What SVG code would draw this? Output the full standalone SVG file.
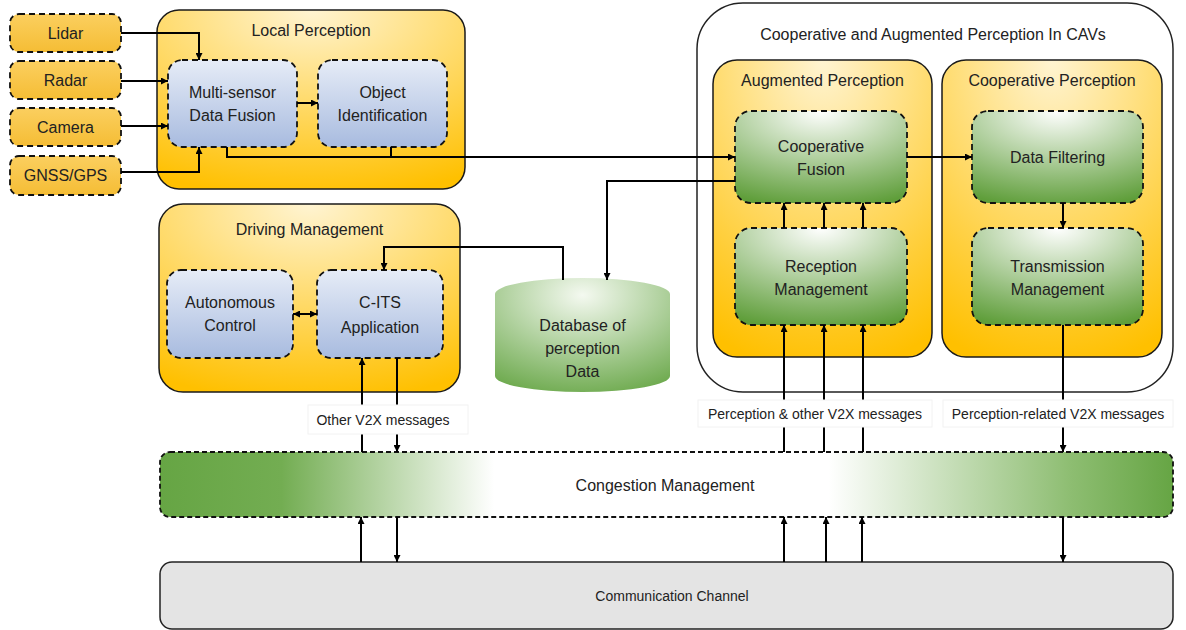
<svg xmlns="http://www.w3.org/2000/svg" width="1186" height="630" viewBox="0 0 1186 630">
<defs>
<radialGradient id="gYellow" cx="0.5" cy="0" r="1.05">
<stop offset="0" stop-color="#fff4d2"/>
<stop offset="1" stop-color="#ffc000"/>
</radialGradient>
<linearGradient id="gSensor" x1="0" y1="0" x2="0" y2="1">
<stop offset="0" stop-color="#fbcf5f"/>
<stop offset="1" stop-color="#f5bd35"/>
</linearGradient>
<linearGradient id="gBlue" x1="0" y1="0" x2="0" y2="1">
<stop offset="0" stop-color="#e6ecf7"/>
<stop offset="1" stop-color="#a8bbdf"/>
</linearGradient>
<radialGradient id="gGreen" cx="0.5" cy="0" r="1.05">
<stop offset="0" stop-color="#ffffff"/>
<stop offset="1" stop-color="#5f9e3a"/>
</radialGradient>
<radialGradient id="gDb" cx="0.5" cy="0.15" r="0.95">
<stop offset="0" stop-color="#f4f9f0"/>
<stop offset="1" stop-color="#67a646"/>
</radialGradient>
<linearGradient id="gCong" x1="0" y1="0" x2="1" y2="0">
<stop offset="0" stop-color="#66a544"/>
<stop offset="0.12" stop-color="#73ad52"/>
<stop offset="0.33" stop-color="#ffffff"/>
<stop offset="0.66" stop-color="#ffffff"/>
<stop offset="0.9" stop-color="#8dbd71"/>
<stop offset="1" stop-color="#66a544"/>
</linearGradient>
<marker id="arr" viewBox="0 0 10 10" refX="10" refY="5" markerWidth="7" markerHeight="7" orient="auto-start-reverse" markerUnits="userSpaceOnUse">
<path d="M0,0 L10,5 L0,10 z" fill="#000"/>
</marker>
<style>
.t{font-family:"Liberation Sans",Arial,sans-serif;font-size:16px;fill:#222;text-anchor:middle}
.s{font-family:"Liberation Sans",Arial,sans-serif;font-size:14px;fill:#222;text-anchor:middle}
.yel{fill:url(#gYellow);stroke:#1a1a1a;stroke-width:1.5}
.sen{fill:url(#gSensor);stroke:#111;stroke-width:1.8;stroke-dasharray:6 4}
.blu{fill:url(#gBlue);stroke:#111;stroke-width:1.8;stroke-dasharray:6 4}
.grn{fill:url(#gGreen);stroke:#111;stroke-width:1.8;stroke-dasharray:6 4}
.c{fill:none;stroke:#000;stroke-width:2}
.ca{fill:none;stroke:#000;stroke-width:2;marker-end:url(#arr)}
.lbl{fill:#fff;stroke:#f2f2f2;stroke-width:1}
</style>
</defs>
<rect width="1186" height="630" fill="#fff"/>

<g id="sensor-lidar"><rect class="sen" x="10" y="14" width="111" height="38" rx="9"/><text class="t" x="65.5" y="39">Lidar</text></g>
<g id="sensor-radar"><rect class="sen" x="10" y="61" width="111" height="38" rx="9"/><text class="t" x="65.5" y="86">Radar</text></g>
<g id="sensor-camera"><rect class="sen" x="10" y="108" width="111" height="38" rx="9"/><text class="t" x="65.5" y="133">Camera</text></g>
<g id="sensor-gnss"><rect class="sen" x="10" y="156" width="111" height="39" rx="9"/><text class="t" x="65.5" y="181">GNSS/GPS</text></g>

<g id="local-perception">
<rect class="yel" x="157" y="10" width="308" height="179" rx="22"/>
<text class="t" x="311" y="36">Local Perception</text>
</g>
<g id="multi-sensor-fusion"><rect class="blu" x="168" y="60" width="129" height="87" rx="14"/><text class="t" x="232.5" y="98">Multi-sensor</text><text class="t" x="232.5" y="121">Data Fusion</text></g>
<g id="object-identification"><rect class="blu" x="318" y="60" width="129" height="87" rx="14"/><text class="t" x="382.5" y="98">Object</text><text class="t" x="382.5" y="121">Identification</text></g>

<g id="driving-management">
<rect class="yel" x="159" y="204" width="301" height="188" rx="24"/>
<text class="t" x="309.5" y="235">Driving Management</text>
</g>
<g id="autonomous-control"><rect class="blu" x="167" y="270" width="126" height="88" rx="14"/><text class="t" x="230" y="308">Autonomous</text><text class="t" x="230" y="331">Control</text></g>
<g id="c-its-application"><rect class="blu" x="317" y="270" width="126" height="88" rx="14"/><text class="t" x="380" y="308">C-ITS</text><text class="t" x="380" y="333">Application</text></g>

<g id="database">
<path d="M495,294 A87.5,16 0 0 1 670,294 V376 A87.5,16 0 0 1 495,376 Z" fill="url(#gDb)"/>
<text class="t" x="582.5" y="331">Database of</text>
<text class="t" x="582.5" y="354">perception</text>
<text class="t" x="582.5" y="377">Data</text>
</g>

<g id="cavs">
<rect x="697" y="3" width="476" height="389" rx="46" fill="#fff" stroke="#222" stroke-width="1.5"/>
<text class="t" x="933" y="40">Cooperative and Augmented Perception In CAVs</text>
</g>
<g id="augmented-perception"><rect class="yel" x="713" y="60" width="219" height="297" rx="24"/><text class="t" x="822.5" y="86">Augmented Perception</text></g>
<g id="cooperative-perception"><rect class="yel" x="942" y="60" width="220" height="297" rx="24"/><text class="t" x="1052" y="86">Cooperative Perception</text></g>
<g id="cooperative-fusion"><rect class="grn" x="735" y="111" width="172" height="92" rx="16"/><text class="t" x="821" y="152">Cooperative</text><text class="t" x="821" y="175">Fusion</text></g>
<g id="reception-management"><rect class="grn" x="735" y="228" width="172" height="97" rx="16"/><text class="t" x="821" y="272">Reception</text><text class="t" x="821" y="295">Management</text></g>
<g id="data-filtering"><rect class="grn" x="972" y="111" width="171" height="92" rx="16"/><text class="t" x="1057.5" y="163">Data Filtering</text></g>
<g id="transmission-management"><rect class="grn" x="972" y="228" width="171" height="97" rx="16"/><text class="t" x="1057.5" y="272">Transmission</text><text class="t" x="1057.5" y="295">Management</text></g>

<g id="congestion-management"><rect x="160" y="452" width="1013" height="65" rx="10" fill="url(#gCong)" stroke="#111" stroke-width="1.8" stroke-dasharray="5 3"/><text class="t" x="665" y="491">Congestion Management</text></g>
<g id="communication-channel"><rect x="160" y="562" width="1013" height="67" rx="12" fill="#e4e4e4" stroke="#222" stroke-width="1.5"/><text class="s" x="672" y="601">Communication Channel</text></g>

<g id="connectors">
<path class="ca" d="M121,33 H199 V60"/>
<path class="ca" d="M121,81 H168"/>
<path class="ca" d="M121,126 H168"/>
<path class="ca" d="M121,172 H199 V147"/>
<path class="ca" d="M297,103 H318"/>
<path class="ca" d="M227,147 V157 H735"/>
<path class="c" d="M391,147 V157"/>
<path class="ca" d="M735,181 H607 V280"/>
<path class="ca" d="M563,280 V247 H384 V270"/>
<path class="ca" d="M293,314 H317" marker-start="url(#arr)"/>
<path class="ca" d="M907,157 H972"/>
<path class="ca" d="M784,228 V203"/>
<path class="ca" d="M824,228 V203"/>
<path class="ca" d="M863,228 V203"/>
<path class="ca" d="M1063,203 V228"/>
<path class="ca" d="M784,452 V325"/>
<path class="ca" d="M824,452 V325"/>
<path class="ca" d="M863,452 V325"/>
<path class="ca" d="M1063,325 V452"/>
<path class="ca" d="M362,452 V358"/>
<path class="ca" d="M397,358 V452"/>
<path class="ca" d="M361,562 V517"/>
<path class="ca" d="M397,517 V562"/>
<path class="ca" d="M784,562 V517"/>
<path class="ca" d="M826,562 V517"/>
<path class="ca" d="M862,562 V517"/>
<path class="ca" d="M1063,517 V562"/>
<rect class="lbl" x="308" y="405" width="160" height="29"/>
<text class="s" x="383" y="425">Other V2X messages</text>
<rect class="lbl" x="698" y="400" width="234" height="27"/>
<text class="s" x="815" y="419">Perception &amp; other V2X messages</text>
<rect class="lbl" x="943" y="400" width="230" height="27"/>
<text class="s" x="1058" y="419">Perception-related V2X messages</text>
</g>
</svg>
